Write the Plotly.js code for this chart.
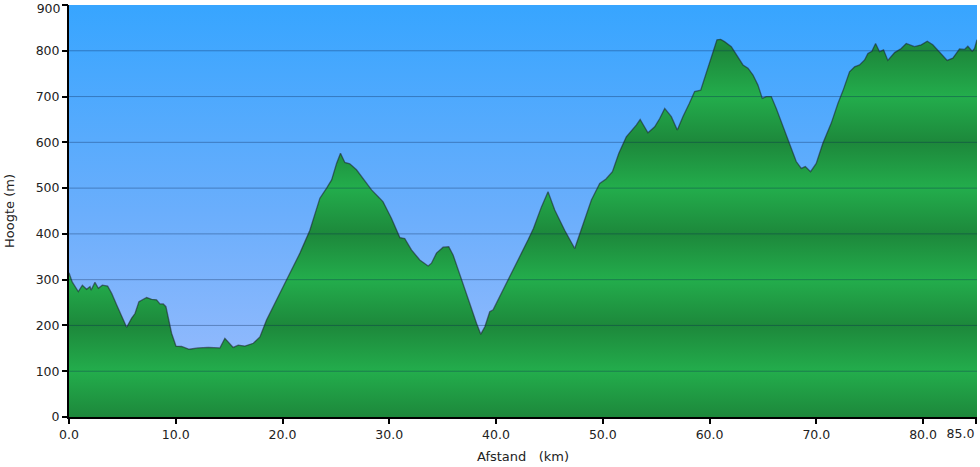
<!DOCTYPE html>
<html>
<head>
<meta charset="utf-8">
<script src="https://cdn.plot.ly/plotly-3.0.1.min.js"></script>
<style>
html,body{margin:0;padding:0;background:#fff;}
#chart{width:980px;height:467px;}
</style>
</head>
<body>
<div id="chart"></div>
<script>
// Distance along the route (km)
const distanceKm = [
  0, 0.3, 0.87, 1.25, 1.65, 1.97, 2.06, 2.43, 2.75, 3.12,
  3.62, 4.0, 4.46, 4.93, 5.4, 5.87, 6.18, 6.55, 6.96, 7.27,
  7.74, 8.2, 8.52, 8.83, 9.08, 9.3, 9.61, 10.02, 10.55, 11.26,
  12.1, 13.04, 14.14, 14.6, 15.38, 15.85, 16.48, 17.26, 17.88, 18.5,
  19.44, 20.38, 21.63, 22.56, 23.5, 24.13, 24.6, 25.06, 25.43, 25.84,
  26.3, 26.93, 27.55, 28.34, 29.1, 29.42, 30.2, 30.99, 31.45, 32.08,
  32.86, 33.64, 33.95, 34.42, 35.04, 35.57, 35.98, 36.76, 37.54, 38.17,
  38.57, 38.95, 39.41, 39.72, 40.51, 41.44, 42.38, 43.0, 43.5, 44.25,
  44.87, 45.5, 46.43, 47.37, 48.15, 48.93, 49.71, 50.3, 50.9, 51.5,
  52.2, 52.7, 53.15, 53.5, 53.92, 54.23, 54.86, 55.33, 55.8, 56.42,
  56.98, 57.5, 58.1, 58.6, 59.17, 59.7, 60.32, 60.69, 61.04, 61.4,
  62.04, 62.66, 63.13, 63.6, 64.07, 64.53, 64.94, 65.31, 65.78, 66.25,
  66.87, 67.5, 68.12, 68.59, 68.97, 69.46, 69.99, 70.61, 71.4, 72.02,
  72.5, 73.11, 73.58, 74.05, 74.52, 74.83, 75.2, 75.55, 75.92, 76.3,
  76.7, 77.33, 77.95, 78.42, 79.2, 79.83, 80.39, 80.91, 81.63, 82.26,
  82.79, 83.41, 83.88, 84.19, 84.6, 84.82, 85.05
];
// Elevation (m)
const elevationM = [
  315, 295, 274, 288, 279, 285, 277, 294, 281, 288,
  286, 270, 245, 219, 196, 216, 226, 252, 258, 261,
  257, 256, 247, 247, 241, 219, 183, 155, 154, 148,
  151, 152, 151, 172, 152, 157, 155, 161, 175, 212,
  256, 299, 358, 408, 478, 500, 518, 554, 576, 556,
  553, 540, 521, 496, 478, 470, 434, 392, 390, 365,
  343, 330, 336, 358, 371, 372, 354, 299, 248, 205,
  181, 197, 230, 234, 270, 314, 358, 387, 412, 459,
  492, 452, 408, 368, 423, 474, 510, 520, 536, 576,
  612, 625, 638, 650, 634, 621, 634, 652, 674, 656,
  627, 656, 685, 711, 714, 751, 794, 824, 825, 820,
  809, 787, 769, 762, 747, 725, 696, 700, 700, 674,
  634, 594, 558, 543, 547, 536, 554, 598, 642, 685,
  713, 754, 765, 769, 780, 794, 799, 816, 798, 802,
  779, 796, 805, 816, 809, 813, 821, 813, 794, 779,
  784, 804, 803, 810, 799, 805, 824
];

const yTicks = [0, 100, 200, 300, 400, 500, 600, 700, 800, 900];
const yTickText = ['0', '100', '200', '300', '400', '500', '600', '700', '800', ''];
const yTopTick = [900];
const yTopTickText = ['900'];
const xTicks = [0, 10, 20, 30, 40, 50, 60, 70, 80, 85];
const xTickText = ['0.0', '10.0', '20.0', '30.0', '40.0', '50.0', '60.0', '70.0', '80.0', ''];
const xEndTick = [85];
const xEndTickText = ['85.0'];

const yMax = 900;
const xMax = distanceKm[distanceKm.length - 1];

// banded green colorscale: dark at even hundreds, bright at odd hundreds
const greenScale = [];
for (let k = 0; k < yTicks.length; k++) {
  greenScale.push([k / (yTicks.length - 1), k % 2 === 0 ? '#1d883b' : '#23ad4c']);
}

const skyTrace = {
  x: [0, xMax], y: [yMax, yMax],
  type: 'scatter', mode: 'none', fill: 'tozeroy',
  fillgradient: {type: 'vertical', start: 0, stop: yMax,
    colorscale: [[0, '#a0befd'], [0.5, '#6aaefc'], [1, '#37a5ff']]},
  hoverinfo: 'skip', showlegend: false
};

const terrainTrace = {
  x: distanceKm, y: elevationM,
  type: 'scatter', mode: 'lines', fill: 'tozeroy',
  line: {color: 'rgba(25,30,40,0.55)', width: 1.3},
  fillgradient: {type: 'vertical', start: 0, stop: yMax, colorscale: greenScale},
  hoverinfo: 'skip', showlegend: false
};

const dummyX = {x: [xMax], y: [0], xaxis: 'x2', yaxis: 'y', type: 'scatter', mode: 'none', hoverinfo: 'skip', showlegend: false};
const dummyY = {x: [0], y: [yMax], xaxis: 'x', yaxis: 'y2', type: 'scatter', mode: 'none', hoverinfo: 'skip', showlegend: false};

const shapes = yTicks.filter(v => v > 0 && v < yMax).map(v => ({
  type: 'line', xref: 'paper', x0: 0, x1: 1, yref: 'y', y0: v, y1: v,
  line: {color: 'rgba(10,35,80,0.35)', width: 1}, layer: 'above'
}));

const fam = 'DejaVu Sans, Verdana, sans-serif';
const tickFont = {family: fam, size: 12.5, color: '#222'};

const layout = {
  width: 980, height: 467,
  margin: {l: 69, r: 3, t: 5, b: 50},
  paper_bgcolor: '#ffffff', plot_bgcolor: '#6aaefc',
  font: {family: fam, size: 12.5, color: '#222'},
  showlegend: false,
  xaxis: {
    range: [0, xMax], tickvals: xTicks, ticktext: xTickText, tickfont: tickFont,
    showgrid: false, zeroline: false,
    showline: true, linecolor: '#000', linewidth: 2,
    ticks: 'outside', ticklen: 5, tickwidth: 2, tickcolor: '#000',
    title: {text: 'Afstand\u00a0\u00a0\u00a0(km)', font: {family: fam, size: 13, color: '#222'}, standoff: 11},
    layer: 'above traces'
  },
  xaxis2: {
    overlaying: 'x', matches: 'x', range: [0, xMax], side: 'bottom',
    tickvals: xEndTick, ticktext: xEndTickText, ticklabelshift: -16, tickfont: tickFont,
    showgrid: false, zeroline: false, showline: false,
    ticks: 'outside', ticklen: 5, tickwidth: 2, tickcolor: 'rgba(0,0,0,0)'
  },
  yaxis: {
    range: [0, yMax], tickvals: yTicks, ticktext: yTickText, tickfont: tickFont,
    showgrid: false, zeroline: false,
    showline: true, linecolor: '#000', linewidth: 2,
    ticks: 'outside', ticklen: 5, tickwidth: 2, tickcolor: '#000',
    title: {text: 'Hoogte (m)', font: {family: fam, size: 13, color: '#222'}, standoff: 18},
    layer: 'above traces'
  },
  yaxis2: {
    overlaying: 'y', matches: 'y', range: [0, yMax], side: 'left',
    tickvals: yTopTick, ticktext: yTopTickText, ticklabelshift: 4, tickfont: tickFont,
    ticklabeloverflow: 'allow',
    showgrid: false, zeroline: false, showline: false,
    ticks: 'outside', ticklen: 5, tickwidth: 2, tickcolor: '#000'
  },
  shapes: shapes
};

Plotly.newPlot('chart', [skyTrace, terrainTrace, dummyX, dummyY], layout, {displayModeBar: false, staticPlot: true});
</script>
</body>
</html>
